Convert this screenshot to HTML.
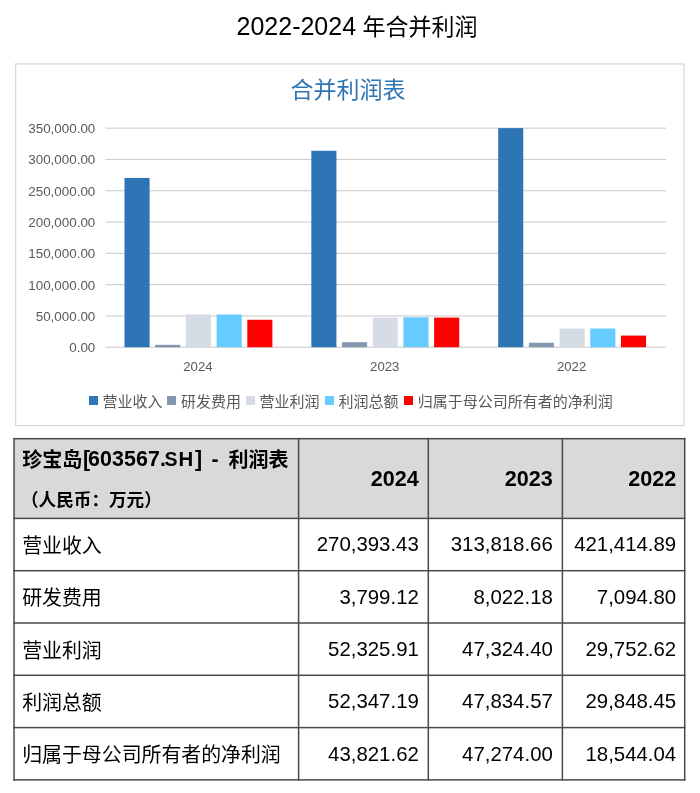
<!DOCTYPE html>
<html lang="zh"><head><meta charset="utf-8"><title>2022-2024 年合并利润</title>
<style>
html,body{margin:0;padding:0;background:#fff;}
body{width:700px;height:793px;position:relative;overflow:hidden;font-family:"Liberation Sans","Noto Sans CJK SC",sans-serif;color:#000;}
div{box-sizing:border-box;white-space:nowrap;}
.title{position:absolute;left:0;width:714px;top:7px;height:38px;line-height:38px;text-align:center;font-size:23px;color:#000;}
.title .n{font-size:25px;position:relative;top:0.2px}
.ctitle{position:absolute;left:0;width:696px;top:74px;height:32px;line-height:32px;text-align:center;font-size:23px;color:#2E75B6;}
svg{position:absolute;left:0;top:0;}
.yl{position:absolute;left:0;width:95.3px;text-align:right;height:20px;line-height:20px;font-size:13.4px;color:#595959;}
.xl{position:absolute;width:60px;text-align:center;top:356.7px;height:20px;line-height:20px;font-size:13.2px;color:#595959;}
.lsq{position:absolute;top:396px;width:9px;height:9px;}
.lt{position:absolute;top:391.5px;height:20px;line-height:20px;font-size:15px;color:#595959;}
.h1{position:absolute;height:30px;line-height:30px;font-size:19px;font-weight:bold;}
.hl{font-size:21.4px !important;}
.hc{font-size:20px !important;}
.h2{position:absolute;height:30px;line-height:30px;font-size:17.6px;font-weight:bold;margin-left:0px;}
.hy{position:absolute;font-size:21.6px;font-weight:bold;}
.rl{position:absolute;font-size:19.9px;}
.rv{position:absolute;font-size:20.4px;}
</style></head><body>
<div class="title"><span class="n">2022-2024</span> 年合并利润</div>
<svg width="700" height="793" viewBox="0 0 700 793">
<rect x="15.6" y="63.9" width="668.3" height="361.7" fill="none" stroke="#D9D9D9" stroke-width="1.3"/>
<rect x="105.5" y="346.70" width="560.5" height="1.1" fill="#CDCDCD"/>
<rect x="105.5" y="315.40" width="560.5" height="1.1" fill="#CDCDCD"/>
<rect x="105.5" y="284.10" width="560.5" height="1.1" fill="#CDCDCD"/>
<rect x="105.5" y="252.80" width="560.5" height="1.1" fill="#CDCDCD"/>
<rect x="105.5" y="221.50" width="560.5" height="1.1" fill="#CDCDCD"/>
<rect x="105.5" y="190.20" width="560.5" height="1.1" fill="#CDCDCD"/>
<rect x="105.5" y="158.90" width="560.5" height="1.1" fill="#CDCDCD"/>
<rect x="105.5" y="127.60" width="560.5" height="1.1" fill="#CDCDCD"/>
<rect x="124.50" y="177.93" width="25.1" height="169.27" fill="#2E75B6"/>
<rect x="155.20" y="344.82" width="25.1" height="2.38" fill="#8497B0"/>
<rect x="185.90" y="314.44" width="25.1" height="32.76" fill="#D6DCE5"/>
<rect x="216.60" y="314.43" width="25.1" height="32.77" fill="#66CCFF"/>
<rect x="247.30" y="319.77" width="25.1" height="27.43" fill="#FF0000"/>
<rect x="311.33" y="150.75" width="25.1" height="196.45" fill="#2E75B6"/>
<rect x="342.03" y="342.18" width="25.1" height="5.02" fill="#8497B0"/>
<rect x="372.73" y="317.57" width="25.1" height="29.63" fill="#D6DCE5"/>
<rect x="403.43" y="317.26" width="25.1" height="29.94" fill="#66CCFF"/>
<rect x="434.13" y="317.61" width="25.1" height="29.59" fill="#FF0000"/>
<rect x="498.17" y="128.10" width="25.1" height="219.10" fill="#2E75B6"/>
<rect x="528.87" y="342.76" width="25.1" height="4.44" fill="#8497B0"/>
<rect x="559.57" y="328.57" width="25.1" height="18.63" fill="#D6DCE5"/>
<rect x="590.27" y="328.51" width="25.1" height="18.69" fill="#66CCFF"/>
<rect x="620.97" y="335.59" width="25.1" height="11.61" fill="#FF0000"/>
<rect x="14.05" y="438.7" width="670.6500000000001" height="79.69999999999999" fill="#D9D9D9"/>
<rect x="13.30" y="437.95" width="672.15" height="1.5" fill="#4a4a4a"/>
<rect x="13.30" y="517.65" width="672.15" height="1.5" fill="#4a4a4a"/>
<rect x="13.30" y="569.95" width="672.15" height="1.5" fill="#4a4a4a"/>
<rect x="13.30" y="622.25" width="672.15" height="1.5" fill="#4a4a4a"/>
<rect x="13.30" y="674.55" width="672.15" height="1.5" fill="#4a4a4a"/>
<rect x="13.30" y="726.85" width="672.15" height="1.5" fill="#4a4a4a"/>
<rect x="13.30" y="779.15" width="672.15" height="1.5" fill="#4a4a4a"/>
<rect x="13.30" y="437.95" width="1.5" height="342.70" fill="#4a4a4a"/>
<rect x="297.85" y="437.95" width="1.5" height="342.70" fill="#4a4a4a"/>
<rect x="427.55" y="437.95" width="1.5" height="342.70" fill="#4a4a4a"/>
<rect x="561.65" y="437.95" width="1.5" height="342.70" fill="#4a4a4a"/>
<rect x="683.95" y="437.95" width="1.5" height="342.70" fill="#4a4a4a"/>
</svg>
<div class="ctitle">合并利润表</div>
<div class="yl" style="top:338.20px">0.00</div>
<div class="yl" style="top:306.90px">50,000.00</div>
<div class="yl" style="top:275.60px">100,000.00</div>
<div class="yl" style="top:244.30px">150,000.00</div>
<div class="yl" style="top:213.00px">200,000.00</div>
<div class="yl" style="top:181.70px">250,000.00</div>
<div class="yl" style="top:150.40px">300,000.00</div>
<div class="yl" style="top:119.10px">350,000.00</div>
<div class="xl" style="left:167.92px">2024</div>
<div class="xl" style="left:354.75px">2023</div>
<div class="xl" style="left:541.58px">2022</div>
<div class="lsq" style="left:88.8px;background:#2E75B6"></div><div class="lt" style="left:102.4px">营业收入</div>
<div class="lsq" style="left:167.3px;background:#8497B0"></div><div class="lt" style="left:180.9px">研发费用</div>
<div class="lsq" style="left:246.0px;background:#D6DCE5"></div><div class="lt" style="left:259.6px">营业利润</div>
<div class="lsq" style="left:325.0px;background:#66CCFF"></div><div class="lt" style="left:338.6px">利润总额</div>
<div class="lsq" style="left:404.2px;background:#FF0000"></div><div class="lt" style="left:417.8px">归属于母公司所有者的净利润</div>

<div class="h1 hc" style="left:22.2px;top:445px">珍宝岛</div>
<div class="h1 hl" style="left:83px;top:444px">[</div>
<div class="h1 hl" style="left:88px;top:444px;letter-spacing:0.1px">603567</div>
<div class="h1 hl" style="left:160px;top:444px">.</div>
<div class="h1 hl" style="left:164.4px;top:444px;font-size:19.5px !important">S</div>
<div class="h1 hl" style="left:178.6px;top:444px;font-size:20.4px !important">H</div>
<div class="h1 hl" style="left:195px;top:444px">]</div>
<div class="h1 hl" style="left:211.6px;top:444px">-</div>
<div class="h1 hc" style="left:228.4px;top:445.4px">利润表</div>
<div class="h2" style="left:21px;top:485px">（人民币：万元）</div>
<div class="hy" style="right:281.2px;top:438.7px;height:79.69999999999999px;line-height:79.69999999999999px">2024</div>
<div class="hy" style="right:147.20000000000005px;top:438.7px;height:79.69999999999999px;line-height:79.69999999999999px">2023</div>
<div class="hy" style="right:23.799999999999955px;top:438.7px;height:79.69999999999999px;line-height:79.69999999999999px">2022</div>
<div class="rl" style="left:22.2px;top:520.1px;height:52.30000000000007px;line-height:52.30000000000007px">营业收入</div>
<div class="rv" style="right:281.2px;top:518.4px;height:52.30000000000007px;line-height:52.30000000000007px">270,393.43</div>
<div class="rv" style="right:147.20000000000005px;top:518.4px;height:52.30000000000007px;line-height:52.30000000000007px">313,818.66</div>
<div class="rv" style="right:23.799999999999955px;top:518.4px;height:52.30000000000007px;line-height:52.30000000000007px">421,414.89</div>
<div class="rl" style="left:22.2px;top:572.4000000000001px;height:52.299999999999955px;line-height:52.299999999999955px">研发费用</div>
<div class="rv" style="right:281.2px;top:570.7px;height:52.299999999999955px;line-height:52.299999999999955px">3,799.12</div>
<div class="rv" style="right:147.20000000000005px;top:570.7px;height:52.299999999999955px;line-height:52.299999999999955px">8,022.18</div>
<div class="rv" style="right:23.799999999999955px;top:570.7px;height:52.299999999999955px;line-height:52.299999999999955px">7,094.80</div>
<div class="rl" style="left:22.2px;top:624.7px;height:52.299999999999955px;line-height:52.299999999999955px">营业利润</div>
<div class="rv" style="right:281.2px;top:623.0px;height:52.299999999999955px;line-height:52.299999999999955px">52,325.91</div>
<div class="rv" style="right:147.20000000000005px;top:623.0px;height:52.299999999999955px;line-height:52.299999999999955px">47,324.40</div>
<div class="rv" style="right:23.799999999999955px;top:623.0px;height:52.299999999999955px;line-height:52.299999999999955px">29,752.62</div>
<div class="rl" style="left:22.2px;top:677.0px;height:52.30000000000007px;line-height:52.30000000000007px">利润总额</div>
<div class="rv" style="right:281.2px;top:675.3px;height:52.30000000000007px;line-height:52.30000000000007px">52,347.19</div>
<div class="rv" style="right:147.20000000000005px;top:675.3px;height:52.30000000000007px;line-height:52.30000000000007px">47,834.57</div>
<div class="rv" style="right:23.799999999999955px;top:675.3px;height:52.30000000000007px;line-height:52.30000000000007px">29,848.45</div>
<div class="rl" style="left:22.2px;top:729.3000000000001px;height:52.299999999999955px;line-height:52.299999999999955px">归属于母公司所有者的净利润</div>
<div class="rv" style="right:281.2px;top:727.6px;height:52.299999999999955px;line-height:52.299999999999955px">43,821.62</div>
<div class="rv" style="right:147.20000000000005px;top:727.6px;height:52.299999999999955px;line-height:52.299999999999955px">47,274.00</div>
<div class="rv" style="right:23.799999999999955px;top:727.6px;height:52.299999999999955px;line-height:52.299999999999955px">18,544.04</div>

</body></html>
